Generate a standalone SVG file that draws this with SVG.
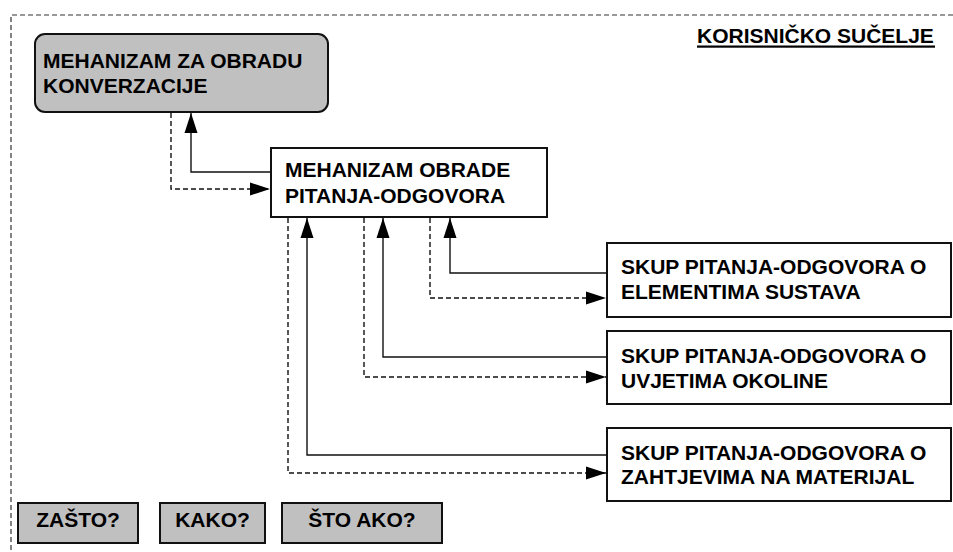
<svg xmlns="http://www.w3.org/2000/svg" width="953" height="552" viewBox="0 0 953 552">
<defs>
<style>
.box{fill:#fff;stroke:#111;stroke-width:2}
.grey{fill:#c0c0c0;stroke:#111;stroke-width:2}
.t{font-family:"Liberation Sans",Arial,sans-serif;font-weight:bold;font-size:21px;fill:#000}
.c{fill:none;stroke:#111;stroke-width:1.4}
.d{fill:none;stroke:#111;stroke-width:1.4;stroke-dasharray:5,3}
.border{fill:none;stroke:#333;stroke-width:1.2;stroke-dasharray:5,3}
</style>
<marker id="arr" markerUnits="userSpaceOnUse" markerWidth="20" markerHeight="14" refX="20" refY="7" orient="auto">
<path d="M0,0.5 L20,7 L0,13.5 Z" fill="#000"/>
</marker>
</defs>
<rect width="953" height="552" fill="#fff"/>
<path class="border" d="M953,15 H11 V552"/>
<g id="title">
<text class="t" x="697" y="43">KORISNIČKO SUČELJE</text>
<rect x="697" y="45.5" width="238" height="2.2" fill="#000"/>
</g>
<g id="n1">
<rect class="grey" x="35" y="34" width="293" height="78" rx="10"/>
<text class="t" x="43" y="68">MEHANIZAM ZA OBRADU</text>
<text class="t" x="43" y="93">KONVERZACIJE</text>
</g>
<g id="n2">
<rect class="box" x="271" y="148" width="276" height="69"/>
<text class="t" x="285" y="177">MEHANIZAM OBRADE</text>
<text class="t" x="285" y="203">PITANJA-ODGOVORA</text>
</g>
<g id="n3">
<rect class="box" x="607" y="243" width="344" height="74"/>
<text class="t" x="621" y="274">SKUP PITANJA-ODGOVORA O</text>
<text class="t" x="621" y="299">ELEMENTIMA SUSTAVA</text>
</g>
<g id="n4">
<rect class="box" x="607" y="331" width="344" height="73"/>
<text class="t" x="621" y="363">SKUP PITANJA-ODGOVORA O</text>
<text class="t" x="621" y="388">UVJETIMA OKOLINE</text>
</g>
<g id="n5">
<rect class="box" x="607" y="428" width="344" height="73"/>
<text class="t" x="621" y="460">SKUP PITANJA-ODGOVORA O</text>
<text class="t" x="621" y="484">ZAHTJEVIMA NA MATERIJAL</text>
</g>
<g id="b1">
<rect class="grey" x="18" y="503" width="120" height="40"/>
<text class="t" x="78" y="527" text-anchor="middle">ZAŠTO?</text>
</g>
<g id="b2">
<rect class="grey" x="160" y="503" width="105" height="40"/>
<text class="t" x="212.5" y="527" text-anchor="middle">KAKO?</text>
</g>
<g id="b3">
<rect class="grey" x="282" y="503" width="160" height="40"/>
<text class="t" x="362" y="527" text-anchor="middle">ŠTO AKO?</text>
</g>
<g id="connectors">
<path class="c" d="M271,172 H191 V113" marker-end="url(#arr)"/>
<path class="d" d="M171,113 V189 H270" marker-end="url(#arr)"/>
<path class="c" d="M607,273 H450 V218" marker-end="url(#arr)"/>
<path class="d" d="M430,218 V298 H606" marker-end="url(#arr)"/>
<path class="c" d="M607,357 H383 V218" marker-end="url(#arr)"/>
<path class="d" d="M364,218 V377 H606" marker-end="url(#arr)"/>
<path class="c" d="M607,455 H307 V218" marker-end="url(#arr)"/>
<path class="d" d="M288,218 V473 H606" marker-end="url(#arr)"/>
</g>
</svg>
